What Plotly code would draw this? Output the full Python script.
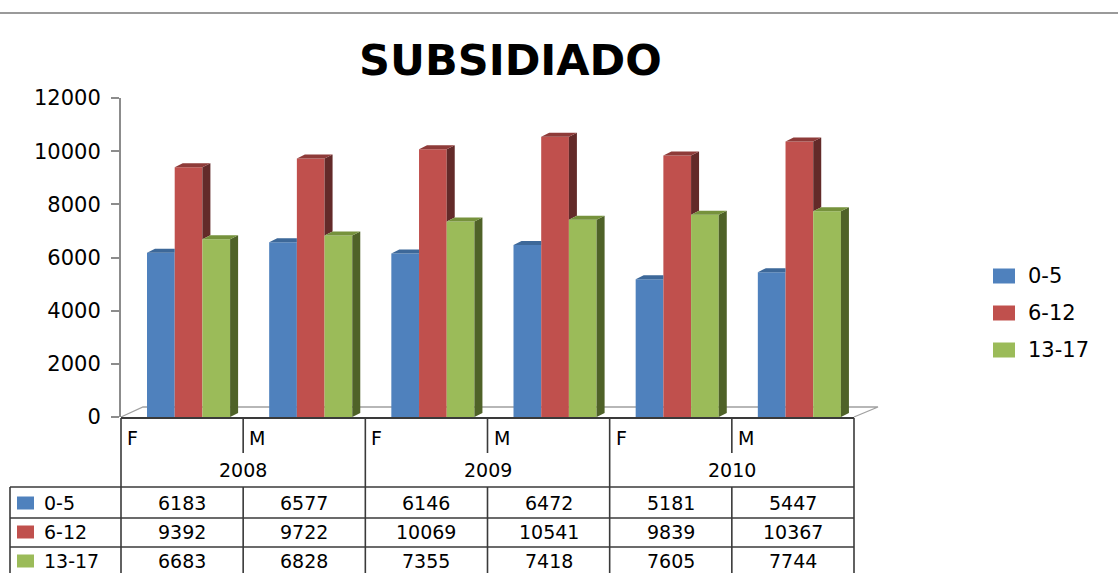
import plotly.graph_objects as go

# ---------------- data ----------------
years = ["2008", "2009", "2010"]
sexes = ["F", "M"]
series_names = ["0-5", "6-12", "13-17"]
vals_0_5 = [6183, 6577, 6146, 6472, 5181, 5447]
vals_6_12 = [9392, 9722, 10069, 10541, 9839, 10367]
vals_13_17 = [6683, 6828, 7355, 7418, 7605, 7744]
y_tick_vals = [0, 2000, 4000, 6000, 8000, 10000, 12000]
title_text = "SUBSIDIADO"

series_vals = [vals_0_5, vals_6_12, vals_13_17]
categories = [(y, s) for y in years for s in sexes]

# ---------------- styles / geometry ----------------
front_colors = ["#4F81BD", "#C0504D", "#9BBB59"]
top_colors = ["#3D6899", "#8E3B39", "#76923C"]
side_colors = ["#2C4D75", "#632A29", "#4F6228"]
FONT = "DejaVu Sans"
LINE = "#3A3A3A"
GREY = "#A0A0A0"

# body margin is removed by a post script, so the figure fills the window
W, H = 1118, 573
def px(x): return x / W
def py(y): return 1 - y / H

PLOT_L, PLOT_R, PLOT_T, PLOT_B = 121, 854, 98, 417
n = len(categories)
slot = (PLOT_R - PLOT_L) / n
YMAX = 12000
upy = YMAX / (PLOT_B - PLOT_T)          # value units per pixel
bar_w = 27.7 / slot                     # in category units
off0 = (147 - (PLOT_L + slot / 2)) / slot
dx = 8 / slot
dy = 4 * upy

fig = go.Figure()
xs = list(range(n))

# front faces
for i, (name, vals) in enumerate(zip(series_names, series_vals)):
    fig.add_trace(go.Bar(
        x=xs, y=vals, width=bar_w, offset=off0 + i * bar_w,
        marker=dict(color=front_colors[i], line=dict(width=0)),
        name=name, showlegend=False, hoverinfo="skip"))

# side and top faces (computed from data, clipped by the neighbouring bar)
side_traces, top_traces = [], []
for i, vals in enumerate(series_vals):
    sx, sy, tx, ty = [], [], [], []
    for j in xs:
        h = vals[j]
        left = j + off0 + i * bar_w
        right = left + bar_w
        hn = series_vals[i + 1][j] if i + 1 < len(series_vals) else None
        if hn is not None and hn > h:
            pts = [(left, h), (right, h), (right, h + dy), (left + dx, h + dy)]
        else:
            pts = [(left, h), (right, h), (right + dx, h + dy), (left + dx, h + dy)]
        for p in pts + [pts[0]]:
            tx.append(p[0]); ty.append(p[1])
        tx.append(None); ty.append(None)
        if hn is None:
            base = 0
        elif hn < h:
            base = hn
        else:
            base = None
        if base is not None:
            pts = [(right, base), (right, h), (right + dx, h + dy), (right + dx, base + dy)]
            for p in pts + [pts[0]]:
                sx.append(p[0]); sy.append(p[1])
            sx.append(None); sy.append(None)
    if sx:
        side_traces.append(go.Scatter(x=sx, y=sy, mode="lines", fill="toself",
                                      fillcolor=side_colors[i], line=dict(width=0, color=side_colors[i]),
                                      showlegend=False, hoverinfo="skip"))
    top_traces.append(go.Scatter(x=tx, y=ty, mode="lines", fill="toself",
                                 fillcolor=top_colors[i], line=dict(width=0, color=top_colors[i]),
                                 showlegend=False, hoverinfo="skip"))
for t in side_traces + top_traces:
    fig.add_trace(t)

shapes = []
annotations = []

def hline(x0, x1, y, color=LINE, w=1.6, layer="above"):
    shapes.append(dict(type="line", xref="paper", yref="paper", x0=px(x0), x1=px(x1),
                       y0=py(y), y1=py(y), line=dict(color=color, width=w), layer=layer))

def vline(x, y0, y1, color=LINE, w=1.6, layer="above"):
    shapes.append(dict(type="line", xref="paper", yref="paper", x0=px(x), x1=px(x),
                       y0=py(y0), y1=py(y1), line=dict(color=color, width=w), layer=layer))

def rect(x0, y0, x1, y1, color):
    shapes.append(dict(type="rect", xref="paper", yref="paper", x0=px(x0), x1=px(x1),
                       y0=py(y0), y1=py(y1), fillcolor=color, line=dict(width=0)))

def text(x, y, s, size, xanchor="center", bold=False):
    annotations.append(dict(xref="paper", yref="paper", x=px(x), y=py(y), text=(f"<b>{s}</b>" if bold else s),
                            showarrow=False, xanchor=xanchor, yanchor="middle",
                            font=dict(family=FONT, size=size, color="black")))

# top rule
hline(0, W, 13, color="#9A9A9A", w=2.2)

# floor
shapes.append(dict(type="path", xref="paper", yref="paper",
                   path=f"M {px(PLOT_L)},{py(417)} L {px(143)},{py(407)} L {px(878)},{py(407)} L {px(PLOT_R)},{py(417)}",
                   line=dict(color=GREY, width=1.3), layer="below"))

# title
text(510, 60, title_text, 43, bold=True)

# right legend
for i, name in enumerate(series_names):
    cy = 276 + i * 37
    rect(993, cy - 7.5, 1015, cy + 7.5, front_colors[i])
    text(1026, cy, name, 21, xanchor="left")

# ---------------- data table ----------------
col_x = [PLOT_L + k * slot for k in range(n + 1)]
T_TOP, SEX_B, YEAR_B = 418, 453, 487
row_lines = [487, 518, 547, 577]

hline(PLOT_L, PLOT_R, T_TOP, w=2)
for k, x in enumerate(col_x):
    if k % 2 == 0:
        vline(x, T_TOP, H + 5)
    else:
        vline(x, T_TOP, SEX_B)
        vline(x, YEAR_B, H + 5)
vline(10, YEAR_B, H + 5)
for y in row_lines:
    hline(10, PLOT_R, y)

for j, (yr, sx) in enumerate(categories):
    text(col_x[j] + 4, 438, sx, 19, xanchor="left")
for k, yr in enumerate(years):
    text((col_x[2 * k] + col_x[2 * k + 2]) / 2, 470, yr, 19)

row_centers = [503, 532, 561]
for i, (name, vals) in enumerate(zip(series_names, series_vals)):
    cy = row_centers[i]
    rect(17, cy - 6.5, 34, cy + 6.5, front_colors[i])
    text(42, cy, name, 19, xanchor="left")
    for j, v in enumerate(vals):
        text((col_x[j] + col_x[j + 1]) / 2, cy, str(v), 19)

fig.update_layout(
    width=W, height=H,
    margin=dict(l=0, r=0, t=0, b=0, pad=0, autoexpand=False),
    paper_bgcolor="white", plot_bgcolor="rgba(0,0,0,0)",
    barmode="overlay", showlegend=False,
    shapes=shapes, annotations=annotations,
    xaxis=dict(domain=[px(PLOT_L), px(PLOT_R)], range=[-0.5, n - 0.5], visible=False,
               automargin=False, fixedrange=True),
    yaxis=dict(domain=[py(PLOT_B), py(PLOT_T)], range=[0, YMAX], tickvals=y_tick_vals,
               ticktext=[str(v) for v in y_tick_vals], automargin=False,
               showgrid=False, zeroline=False, showline=True, linecolor="#8C8C8C", linewidth=2,
               ticks="outside", ticklen=8, tickwidth=2, tickcolor="#8C8C8C",
               tickfont=dict(family=FONT, size=21, color="black"), ticklabelstandoff=6,
               fixedrange=True),
)

fig.write_html(
    "out.html",
    config={"displayModeBar": False},
    post_script="document.body.style.margin='0';document.body.style.overflow='hidden';",
)
